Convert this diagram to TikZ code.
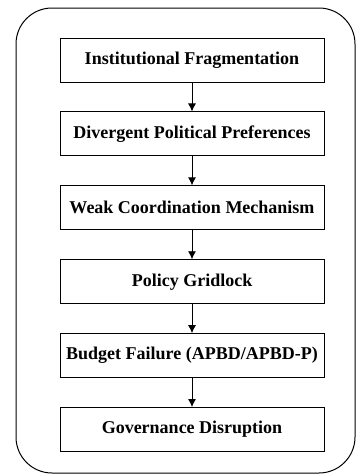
\documentclass[tikz,border=0pt]{standalone}
\usepackage{fontspec}
\setmainfont{Liberation Serif}
\usetikzlibrary{positioning}
\usetikzlibrary{arrows.meta}
\begin{document}
\begin{tikzpicture}[>={Latex[length=8pt,width=8pt]},x=1pt,y=1pt,node distance=29pt,
    stage/.style={draw,line width=0.9pt,minimum width=264pt,minimum height=44pt,inner sep=2pt,
        font=\bfseries\fontsize{18}{21}\selectfont}]
            \useasboundingbox (0,0) rectangle (356,-474);
            %%%%%%%%%%%%%%%%%%%%%%%%%%%%%%%%%%%%%%%%%%outer frame
            \draw[line width=1pt,rounded corners=36pt] (16,-8) rectangle (355,-473);
            %%%%%%%%%%%%%%%%%%%%%%%%%%%%%%%%%%%%%%%%%%stages
            \node[stage] (s1) at (192,-60) {Institutional Fragmentation};
            \node[stage,below=of s1] (s2) {Divergent Political Preferences};
            \node[stage,below=of s2] (s3) {Weak Coordination Mechanism};
            \node[stage,below=of s3] (s4) {Policy Gridlock};
            \node[stage,below=of s4] (s5) {Budget Failure (APBD/APBD-P)};
            \node[stage,below=of s5] (s6) {Governance Disruption};
            \foreach \a/\b in {s1/s2,s2/s3,s3/s4,s4/s5,s5/s6}
            {
                \draw[->,line width=0.9pt] (\a)--(\b);
            }
\end{tikzpicture}
\end{document}
